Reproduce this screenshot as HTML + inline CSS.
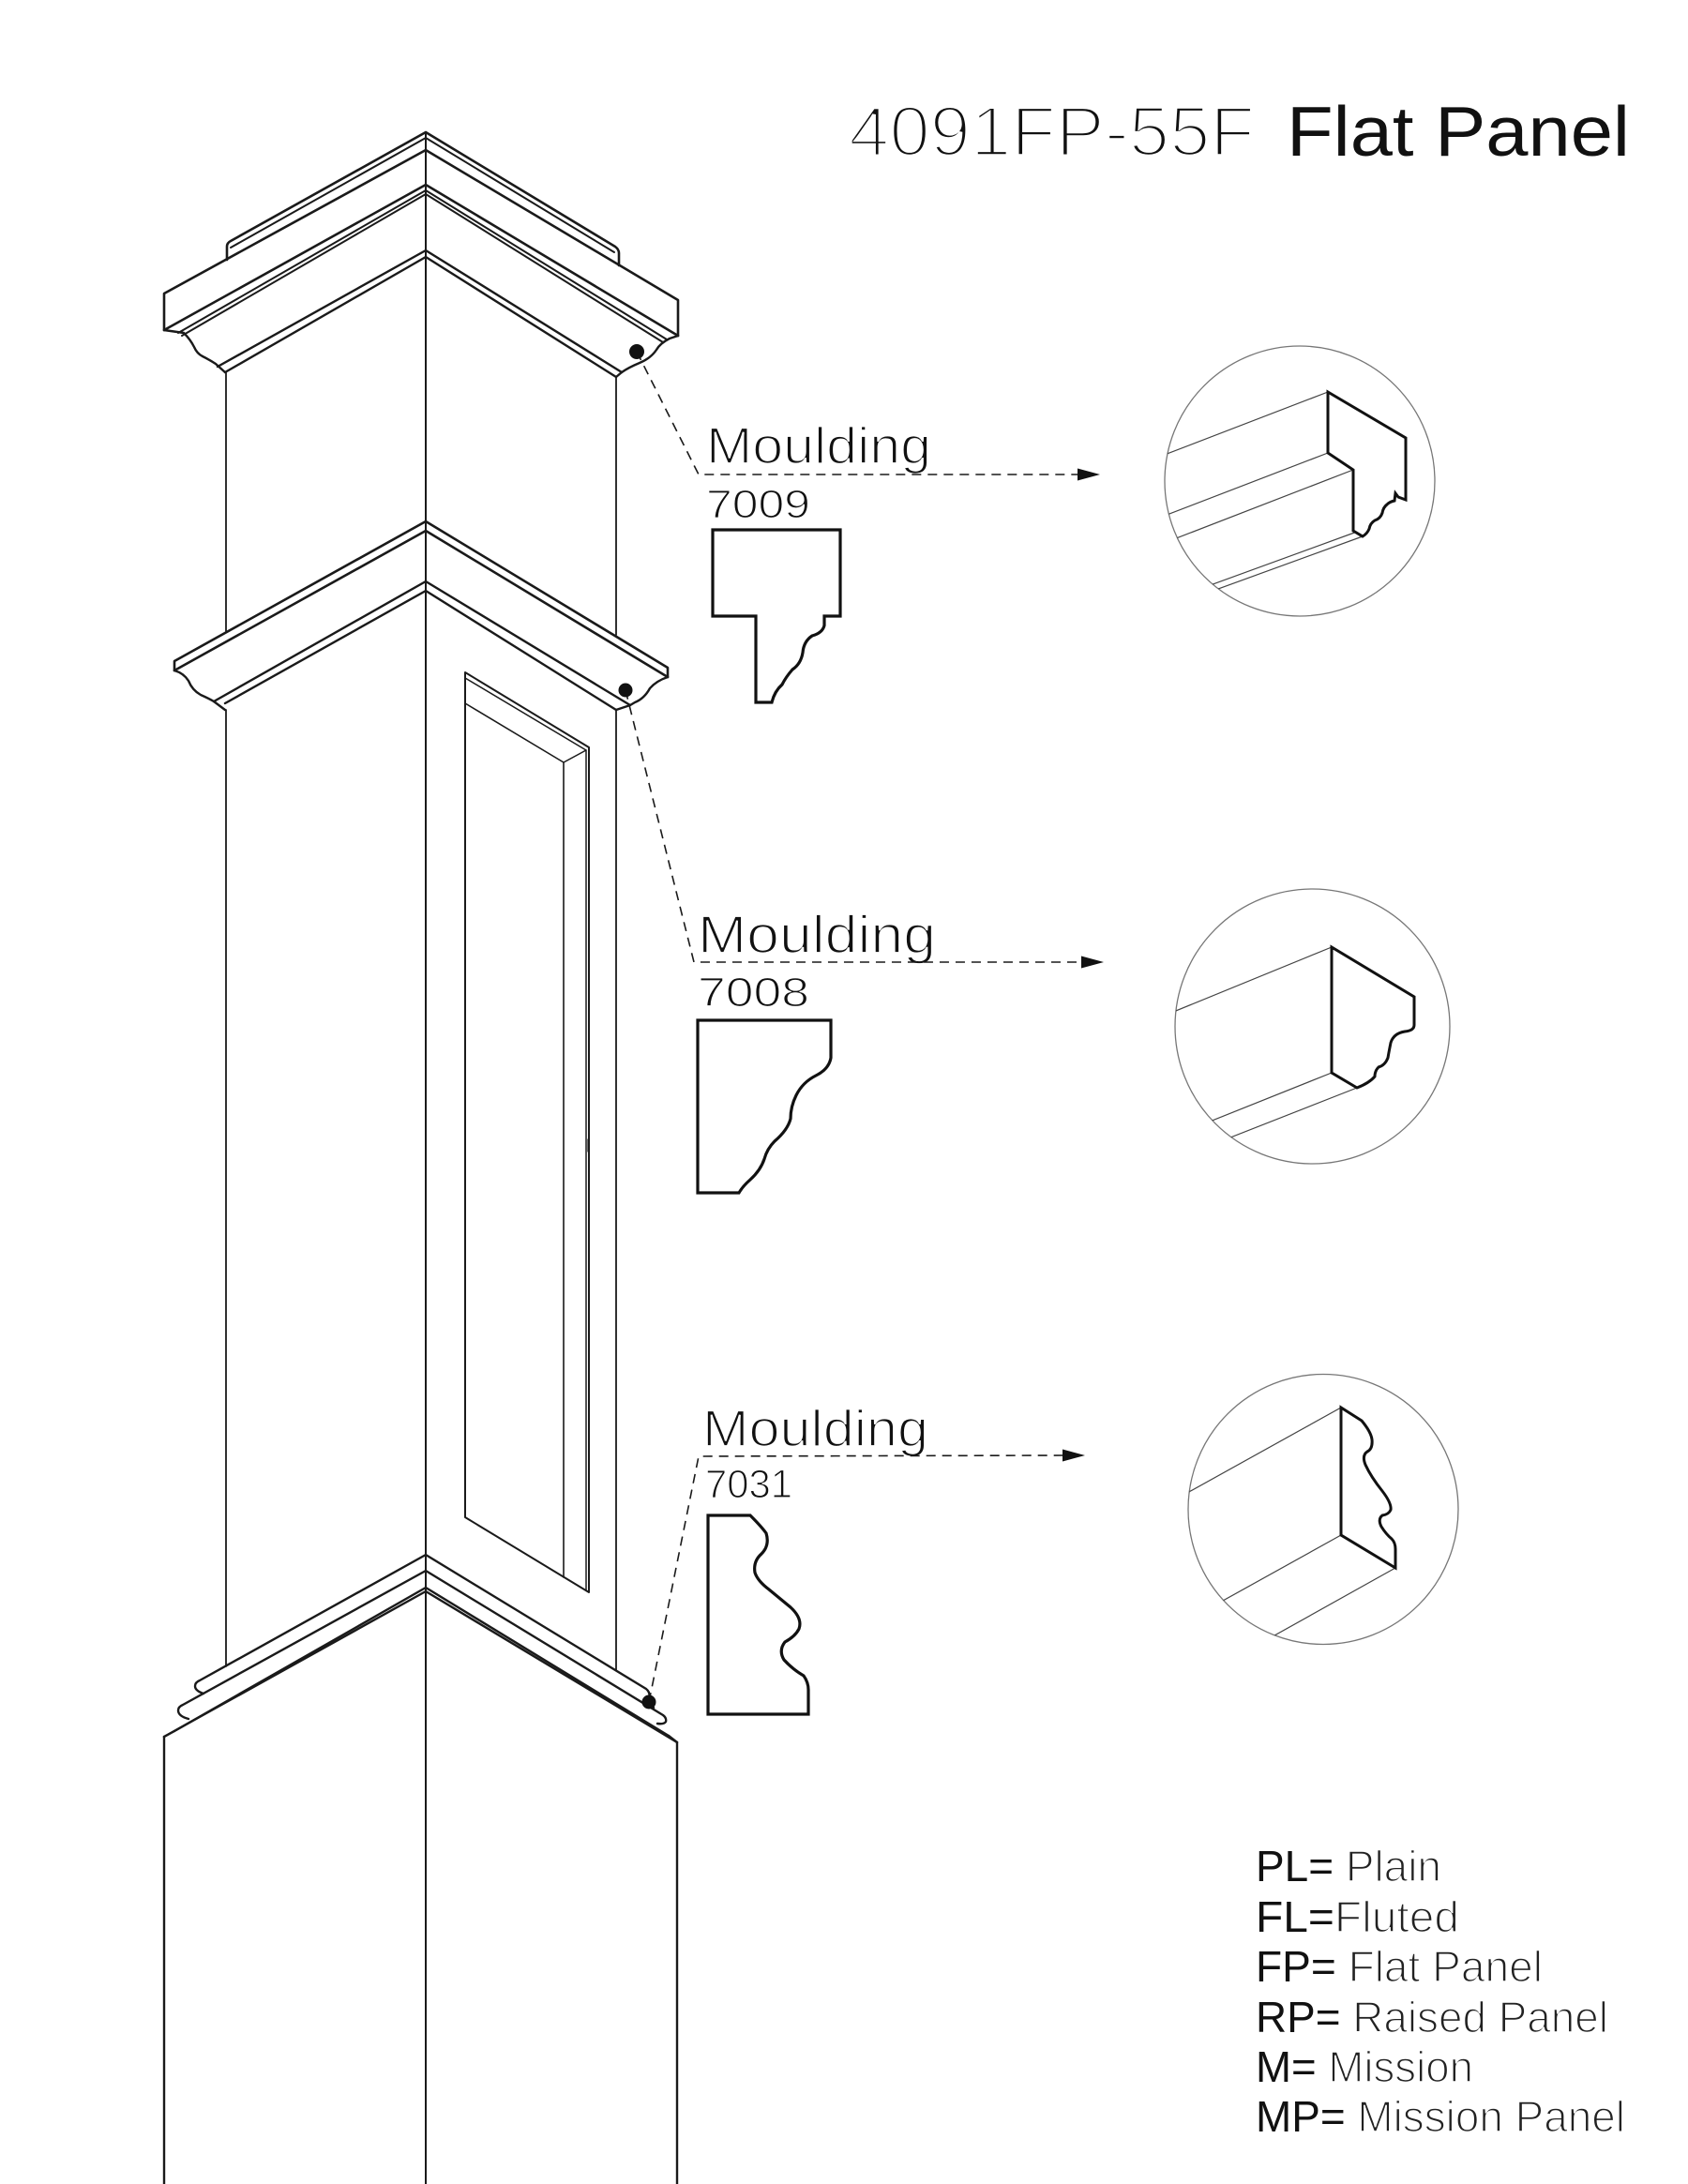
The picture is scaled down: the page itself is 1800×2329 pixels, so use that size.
<!DOCTYPE html>
<html>
<head>
<meta charset="utf-8">
<style>
  html, body { margin: 0; padding: 0; background: #ffffff; }
  body { width: 1800px; height: 2329px; overflow: hidden; }
  svg { display: block; }
  text { font-family: "Liberation Sans", "DejaVu Sans", sans-serif; }
</style>
</head>
<body>
<svg xmlns="http://www.w3.org/2000/svg" width="1800" height="2329" viewBox="0 0 1800 2329">
  <rect x="0" y="0" width="1800" height="2329" fill="#ffffff"/>

  <defs>
    <clipPath id="c1"><circle cx="1386" cy="513" r="144"/></clipPath>
    <clipPath id="c2"><circle cx="1399.5" cy="1094.5" r="146.5"/></clipPath>
    <clipPath id="c3"><circle cx="1411" cy="1609.5" r="144"/></clipPath>
  </defs>

  <!-- Title -->
  <text x="905" y="166" font-size="75" fill="#111" stroke="#fff" stroke-width="3.6" textLength="433" lengthAdjust="spacingAndGlyphs">4091FP-55F</text>
  <text x="1372" y="166" font-size="75" fill="#111" textLength="366" lengthAdjust="spacingAndGlyphs">Flat Panel</text>

  <!-- ================= LABELS ================= -->
  <g fill="#111" stroke="#fff">
    <text x="753" y="494" font-size="55" stroke-width="1.8" textLength="240" lengthAdjust="spacingAndGlyphs">Moulding</text>
    <text x="753" y="552" font-size="43" stroke-width="1.3" textLength="111" lengthAdjust="spacingAndGlyphs">7009</text>
    <text x="744" y="1016" font-size="57" stroke-width="1.8" textLength="254" lengthAdjust="spacingAndGlyphs">Moulding</text>
    <text x="744" y="1073" font-size="44" stroke-width="1.3" textLength="119" lengthAdjust="spacingAndGlyphs">7008</text>
    <text x="749" y="1542" font-size="55" stroke-width="1.8" textLength="241" lengthAdjust="spacingAndGlyphs">Moulding</text>
    <text x="752" y="1597" font-size="43" stroke-width="1.3" textLength="93" lengthAdjust="spacingAndGlyphs">7031</text>
  </g>

  <!-- ================= COLUMN ================= -->
  <g fill="none" stroke="#1a1a1a" stroke-linejoin="round" stroke-linecap="round">
    <line x1="454" y1="141" x2="454" y2="2329" stroke-width="2"/>

    <!-- TOP CAP : plinth -->
    <path d="M242,277 L242,263 Q242,259 246,257 L454,141 L656,263 Q660,266 660,270 L660,283" stroke-width="2.6"/>
    <path d="M246,264 L454,147 L655,269" stroke-width="2"/>
    <!-- cornice box -->
    <path d="M175,352 L175,313 L454,160 L723,320 L723,358" stroke-width="2.6"/>
    <path d="M175,352 L454,197 L723,358" stroke-width="2.6"/>
    <path d="M190,355 L454,203 L711,362" stroke-width="2"/>
    <path d="M194,358 L454,207 L707,365" stroke-width="2"/>
    <path d="M175,352 L196,355 Q203,362 207,370 Q210,377 216,380 Q224,384 230,388 L240,397" stroke-width="2.4"/>
    <path d="M232,391 L454,267 L663,397" stroke-width="2.4"/>
    <path d="M240,397 L454,274 L657,402" stroke-width="2.4"/>
    <path d="M723,358 L714,361 Q704,366 700,373 Q694,382 682,387 Q670,392 663,397 L657,402" stroke-width="2.4"/>

    <!-- upper shaft -->
    <line x1="241" y1="397" x2="241" y2="673" stroke-width="1.8"/>
    <line x1="657" y1="402" x2="657" y2="677" stroke-width="1.8"/>

    <!-- MIDDLE CAP -->
    <path d="M186,715 L186,705 L454,556 L712,712 L712,722" stroke-width="2.6"/>
    <path d="M186,715 L454,566 L712,722" stroke-width="2.6"/>
    <path d="M186,715 Q196,718 201,726 Q205,736 214,741 Q223,745 228,748 L240,757" stroke-width="2.4"/>
    <path d="M228,748 L454,620 L672,752" stroke-width="2.4"/>
    <path d="M240,750 L454,630 L657,757" stroke-width="2.4"/>
    <path d="M712,722 Q700,726 693,734 Q687,745 677,749 L672,752 L657,757" stroke-width="2.4"/>

    <!-- middle shaft -->
    <line x1="241" y1="757" x2="241" y2="1777" stroke-width="1.8"/>
    <line x1="657" y1="757" x2="657" y2="1781" stroke-width="1.8"/>

    <!-- flat panel -->
    <path d="M496,1618 L496,717 L628,797 L628,1698 Z" stroke-width="2"/>
    <path d="M496,723 L625,800 L625,1696" stroke-width="1.5"/>
    <path d="M496,750 L601,813 L601,1682" stroke-width="1.6"/>
    <path d="M601,813 L625,800" stroke-width="1.5"/>
    <line x1="627" y1="1215" x2="627" y2="1228" stroke-width="1.2"/>

    <!-- BOTTOM CAP -->
    <path d="M217,1806 Q208,1803 208,1798 Q208,1794 213,1792 L454,1658 L689,1801 Q694,1805 692,1812 L697,1821" stroke-width="2.4"/>
    <path d="M201,1833 Q190,1830 190,1824 Q190,1820 195,1818 L454,1675 L707,1829 Q711,1832 710,1836 Q708,1839 701,1838" stroke-width="2.4"/>
    <path d="M186,1846 L454,1693 L713,1851" stroke-width="2.4"/>
    <path d="M175,1852 L454,1697 L722,1858" stroke-width="2.4"/>
    <path d="M175,1852 L186,1846" stroke-width="2.4"/>
    <path d="M713,1851 L722,1858" stroke-width="2.4"/>

    <!-- base -->
    <line x1="175" y1="1852" x2="175" y2="2329" stroke-width="2.4"/>
    <line x1="722" y1="1858" x2="722" y2="2329" stroke-width="2.4"/>
  </g>

  <!-- ================= CONNECTORS ================= -->
  <g fill="none" stroke="#1a1a1a" stroke-width="1.6" stroke-dasharray="10,7">
    <path d="M679,375 L745,506 L1150,506"/>
    <path d="M667,736 L740,1026 L1154,1026"/>
    <path d="M692,1815 L745,1553 L1134,1552"/>
  </g>
  <g fill="#111">
    <circle cx="679" cy="375" r="8"/>
    <circle cx="667" cy="736" r="7.5"/>
    <circle cx="692" cy="1815" r="7.5"/>
    <polygon points="1173,506 1149,499.5 1149,512.5"/>
    <polygon points="1177,1026 1153,1019.5 1153,1032.5"/>
    <polygon points="1157,1552 1133,1545.5 1133,1558.5"/>
  </g>

  <!-- ================= PROFILES ================= -->
  <g fill="none" stroke="#111" stroke-width="3.2" stroke-linejoin="miter">
    <path d="M760,565 L896,565 L896,657 L879,657 L879,667 Q877,675 866,678 Q857,684 856,696 Q854,708 845,714 Q838,722 834,730 Q826,737 823,749 L806,749 L806,657 L760,657 Z"/>
    <path d="M744,1088 L886,1088 L886,1128 Q884,1140 870,1147 Q856,1154 849,1168 Q843,1180 843,1193 Q840,1205 826,1217 Q818,1225 815,1236 Q811,1248 800,1258 Q792,1265 788,1272 L744,1272 Z"/>
    <path d="M755,1616 L800,1616 Q812,1628 817,1635 Q821,1648 812,1657 Q803,1665 805,1677 Q808,1686 820,1695 L843,1714 Q856,1726 852,1737 Q848,1745 837,1751 Q830,1760 836,1770 Q845,1780 857,1787 Q862,1794 862,1802 L862,1828 L755,1828 Z"/>
  </g>

  <!-- ================= DETAIL CIRCLES ================= -->
  <circle cx="1386" cy="513" r="144" fill="none" stroke="#777" stroke-width="1.3"/>
  <g clip-path="url(#c1)" stroke="#444" stroke-width="1.2" fill="none">
    <line x1="1416" y1="418" x2="1200" y2="501"/>
    <line x1="1416" y1="483" x2="1200" y2="566"/>
    <line x1="1443" y1="501" x2="1200" y2="595"/>
    <line x1="1447" y1="567" x2="1200" y2="657"/>
    <line x1="1453" y1="572" x2="1200" y2="664"/>
  </g>
  <path d="M1416,418 L1499,467 L1499,533 L1491,530 L1488,526 L1487,534 Q1482,535 1479,538 Q1475,541 1474,547 Q1472,553 1466,555 Q1461,558 1460,564 Q1458,569 1453,572 L1443,566 L1443,501 L1416,483 Z" fill="#fff" stroke="#111" stroke-width="3" stroke-linejoin="miter"/>

  <circle cx="1399.5" cy="1094.5" r="146.5" fill="none" stroke="#777" stroke-width="1.3"/>
  <g clip-path="url(#c2)" stroke="#444" stroke-width="1.2" fill="none">
    <line x1="1420" y1="1010" x2="1200" y2="1100"/>
    <line x1="1420" y1="1144" x2="1200" y2="1232"/>
    <line x1="1447" y1="1160" x2="1200" y2="1257"/>
  </g>
  <path d="M1420,1010 L1508,1063 L1508,1093 Q1508,1099 1498,1100 Q1486,1102 1483,1112 Q1481,1122 1480,1128 Q1477,1136 1470,1138 Q1466,1142 1466,1148 Q1460,1155 1447,1160 L1420,1144 Z" fill="#fff" stroke="#111" stroke-width="3" stroke-linejoin="miter"/>

  <circle cx="1411" cy="1609.5" r="144" fill="none" stroke="#777" stroke-width="1.3"/>
  <g clip-path="url(#c3)" stroke="#444" stroke-width="1.2" fill="none">
    <line x1="1430" y1="1501" x2="1230" y2="1612"/>
    <line x1="1430" y1="1637" x2="1230" y2="1748"/>
    <line x1="1488" y1="1672" x2="1300" y2="1777"/>
  </g>
  <path d="M1430,1501 L1452,1515 Q1462,1527 1463,1535 Q1464,1545 1458,1548 Q1452,1552 1456,1562 Q1462,1575 1474,1590 Q1484,1603 1483,1610 Q1481,1615 1474,1616 Q1469,1620 1473,1628 Q1478,1636 1484,1641 Q1488,1645 1488,1652 L1488,1672 L1430,1637 Z" fill="#fff" stroke="#111" stroke-width="3" stroke-linejoin="miter"/>

  <!-- ================= LEGEND ================= -->
  <g font-size="46">
    <text x="1339" y="2006" textLength="198" lengthAdjust="spacingAndGlyphs"><tspan fill="#111">PL=</tspan><tspan fill="#222" stroke="#fff" stroke-width="1.6"> Plain</tspan></text>
    <text x="1339" y="2060" textLength="217" lengthAdjust="spacingAndGlyphs"><tspan fill="#111">FL=</tspan><tspan fill="#222" stroke="#fff" stroke-width="1.6">Fluted</tspan></text>
    <text x="1339" y="2113" textLength="306" lengthAdjust="spacingAndGlyphs"><tspan fill="#111">FP=</tspan><tspan fill="#222" stroke="#fff" stroke-width="1.6"> Flat Panel</tspan></text>
    <text x="1339" y="2167" textLength="376" lengthAdjust="spacingAndGlyphs"><tspan fill="#111">RP=</tspan><tspan fill="#222" stroke="#fff" stroke-width="1.6"> Raised Panel</tspan></text>
    <text x="1339" y="2220" textLength="232" lengthAdjust="spacingAndGlyphs"><tspan fill="#111">M=</tspan><tspan fill="#222" stroke="#fff" stroke-width="1.6"> Mission</tspan></text>
    <text x="1339" y="2273" textLength="394" lengthAdjust="spacingAndGlyphs"><tspan fill="#111">MP=</tspan><tspan fill="#222" stroke="#fff" stroke-width="1.6"> Mission Panel</tspan></text>
  </g>
</svg>
</body>
</html>
